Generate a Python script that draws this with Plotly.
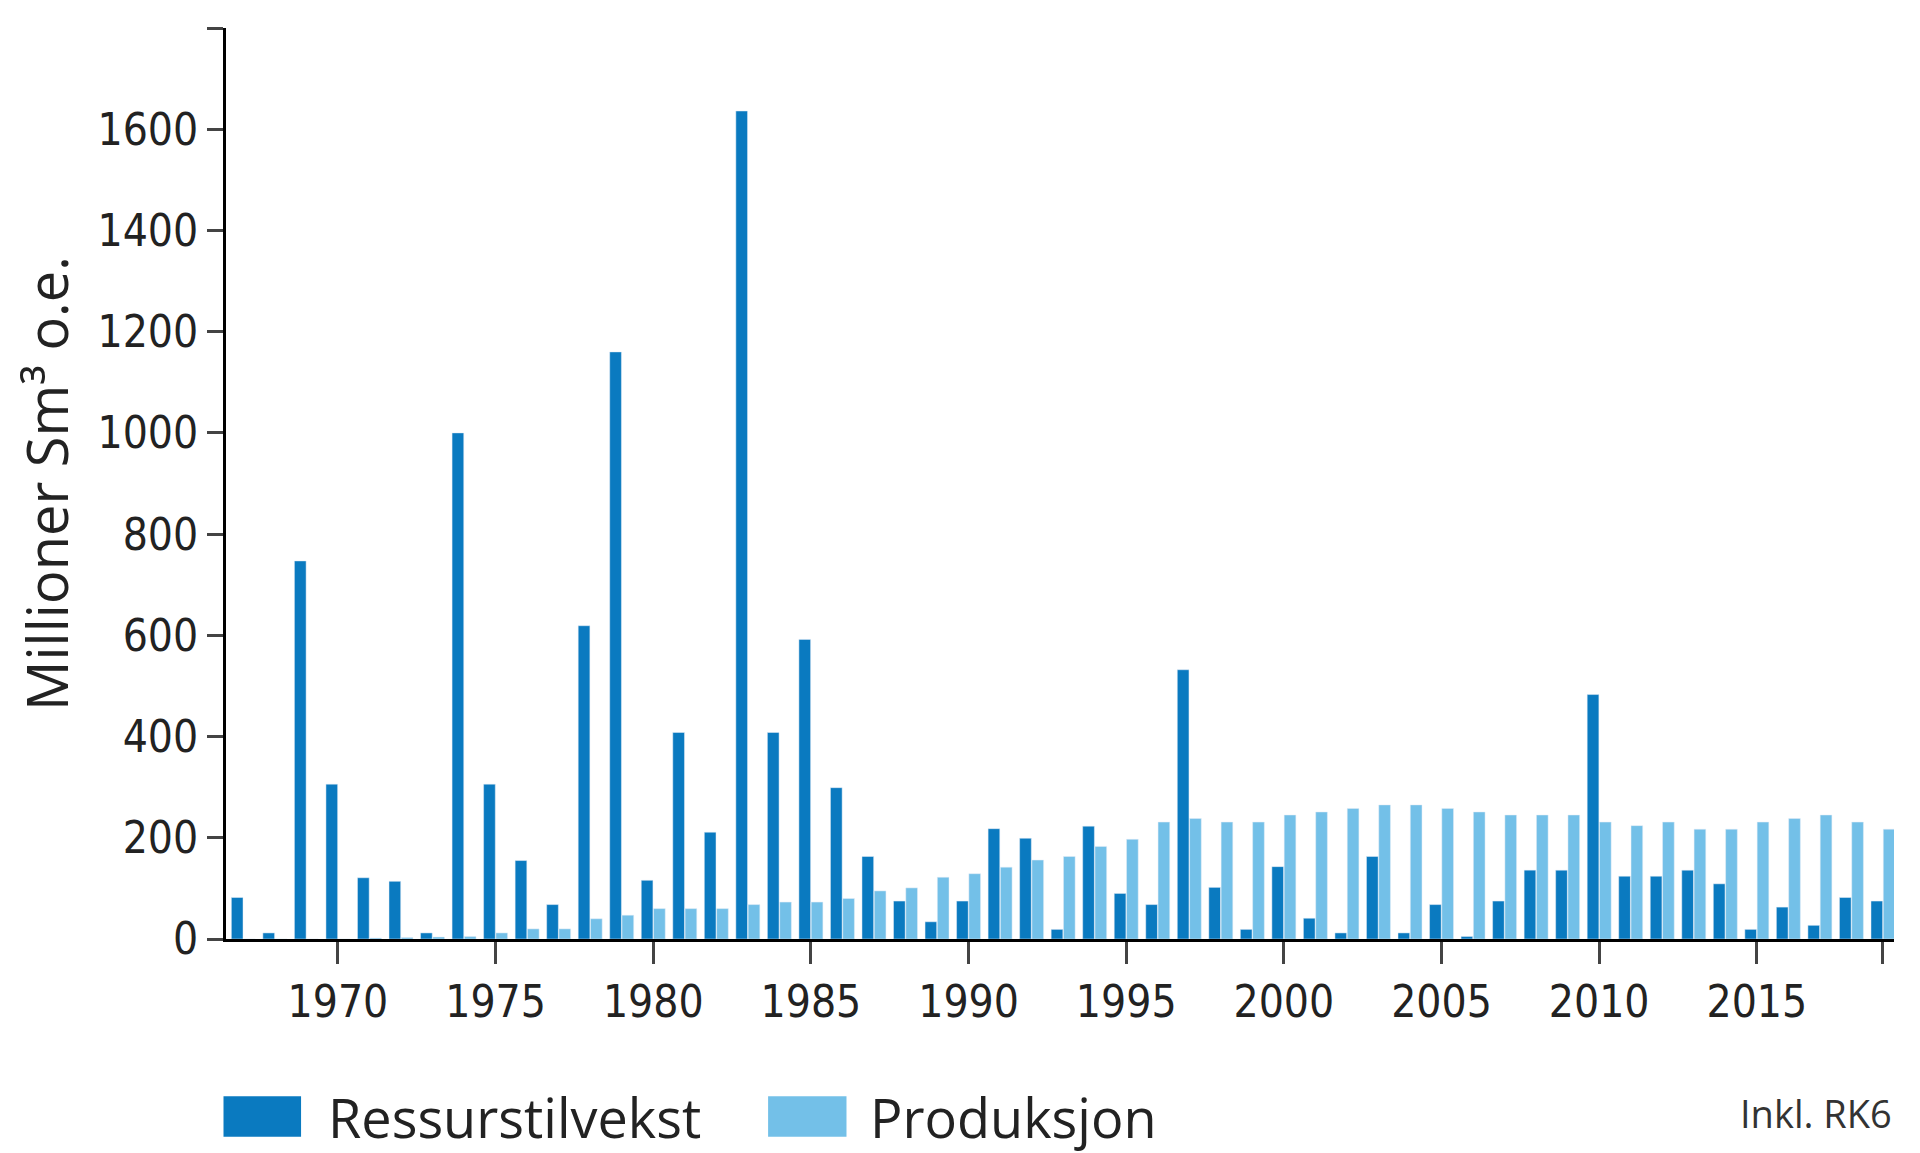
import plotly.graph_objects as go

years = list(range(1967, 2020))
ressurstilvekst = [82, 12, 747, 306, 121, 114, 12, 1000, 306, 155, 68, 619, 1160, 116, 408, 211,
                   1636, 408, 592, 299, 163, 75, 34, 75, 218, 199, 19, 223, 90, 68, 532, 102, 19,
                   143, 41, 12, 163, 12, 68, 5, 75, 136, 136, 483, 124, 124, 136, 109, 19, 63, 27,
                   82, 75]
produksjon = [0, 0, 0, 0, 2, 3, 4, 5, 12, 20, 20, 40, 47, 60, 60, 60, 68, 73, 73, 80, 95, 101,
              122, 129, 142, 156, 163, 183, 197, 231, 238, 231, 231, 245, 251, 258, 265, 265,
              258, 251, 245, 245, 245, 231, 224, 231, 217, 217, 231, 238, 245, 231, 217]
tickyears = [1970, 1975, 1980, 1985, 1990, 1995, 2000, 2005, 2010, 2015, 2019]

dark = "#0a7ac0"
light = "#73c0e8"
font = "DejaVu Sans Condensed"
fig = go.Figure()
fig.add_bar(x=years, y=ressurstilvekst, name="Ressurstilvekst", marker_color=dark)
fig.add_bar(x=years, y=produksjon, name="Produksjon", marker_color=light)

fig.update_layout(
    width=1920, height=1153, plot_bgcolor="white", paper_bgcolor="white",
    barmode="group", bargap=0.22, bargroupgap=0.05, showlegend=False,
    margin=dict(l=218, r=34, t=20, b=222),
    font=dict(family=font, size=44, color="#222"),
    xaxis=dict(range=[1966.45, 2019.35], tickvals=tickyears, showline=True, linecolor="black",
               linewidth=3, ticks="outside", ticklen=22, tickwidth=3, showgrid=False),
    yaxis=dict(range=[0, 1800], dtick=200, showline=True, linecolor="black", linewidth=3,
               ticks="outside", ticklen=16, tickwidth=3, showgrid=False, zeroline=False,
               title=dict(text="Millioner Sm³ o.e.", font=dict(size=56, family="Open Sans"),
                          standoff=15)),
)

# legend drawn as large swatches like the original
for (x0, x1, tx, label, col) in [(-0.0015, 0.045, 0.060, "Ressurstilvekst", dark),
                                 (0.325, 0.372, 0.385, "Produksjon", light)]:
    fig.add_shape(type="rect", xref="paper", yref="paper", x0=x0, x1=x1, y0=-0.217, y1=-0.1725,
                  fillcolor=col, line_width=0)
    fig.add_annotation(text=label, xref="paper", yref="paper", x=tx, y=-0.195, xanchor="left",
                       yanchor="middle", showarrow=False, font=dict(size=54, family="Open Sans"))

fig.add_annotation(text="Inkl. RK6", xref="paper", yref="paper", x=1.0, y=-0.16,
                   xanchor="right", yanchor="top", showarrow=False,
                   font=dict(size=38, family="Open Sans", color="#333"))
fig.write_html("out.html")
